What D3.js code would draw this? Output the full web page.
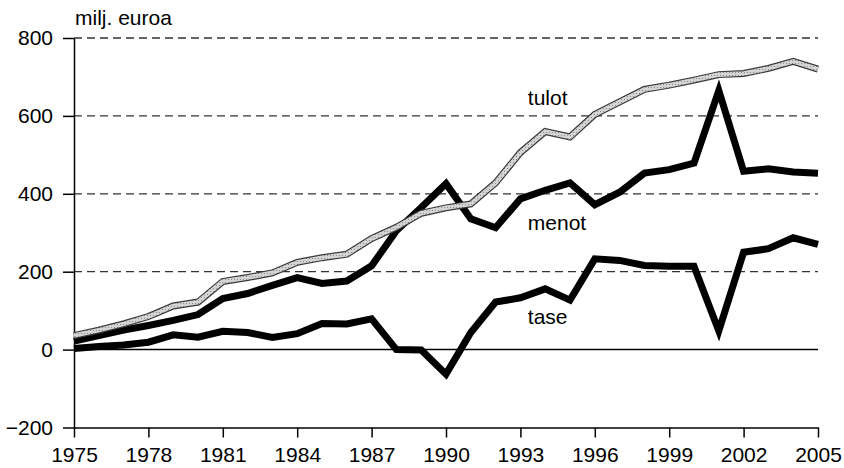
<!DOCTYPE html>
<html>
<head>
<meta charset="utf-8">
<script src="https://cdn.jsdelivr.net/npm/d3@7"></script>
<style>
	body {margin: 0; background: #fff;}
	svg text {font-family: "Liberation Sans", Arial, sans-serif; fill: #000;}
	.grid {stroke: #333; stroke-width: 1.3; stroke-dasharray: 8 5;}
	.axis path, .axis line {stroke: #000; stroke-width: 1.5;}
</style>
</head>
<body>
<svg id="chart" width="844" height="468"></svg>
<script>
var years = d3.range(1975, 2006);
var tulot = [36, 50, 66, 85, 112, 122, 175, 185, 197, 224, 236, 245, 285, 314, 350, 364,
	374, 428, 506, 560, 546, 604, 636, 668, 679, 692, 706, 709, 722, 740, 720];
var menot = [22, 36, 50, 62, 75, 90, 131, 144, 165, 185, 170, 176, 215, 305, 365, 426,
	336, 313, 387, 409, 428, 372, 404, 453, 462, 479, 665, 458, 464, 456, 453];
var tase = [3, 8, 12, 19, 38, 32, 47, 44, 31, 41, 67, 66, 79, 0, -1, -63,
	44, 122, 133, 156, 127, 233, 229, 216, 214, 214, 48, 250, 259, 287, 270];
var yTicks = [-200, 0, 200, 400, 600, 800];
var xTicks = d3.range(1975, 2006, 3);
var labels = [{text: 'tulot', year: 1993.3, value: 629}, {text: 'menot', year: 1993.3, value: 307}, {text: 'tase', year: 1993.3, value: 66}];

var svg = d3.select('#chart');
var x = d3.scaleLinear().domain([1975, 2005]).range([74, 818]);
var y = d3.scaleLinear().domain([-200, 800]).range([427.5, 38]);

// dotted texture for the tulot line
var pat = svg.append('defs').append('pattern').attr('id', 'dots')
	.attr('width', 3).attr('height', 3).attr('patternUnits', 'userSpaceOnUse');
pat.append('rect').attr('width', 3).attr('height', 3).attr('fill', '#d4d4d4');
pat.append('rect').attr('width', 1).attr('height', 1).attr('fill', '#8a8a8a');

// dashed grid
svg.selectAll('line.grid').data(yTicks.filter(function(d) { return d > 0; })).enter()
	.append('line').attr('class', 'grid')
	.attr('x1', x(1975)).attr('x2', x(2005))
	.attr('y1', function(d) { return y(d); }).attr('y2', function(d) { return y(d); });

svg.append('line').attr('x1', x(1975)).attr('x2', x(2005)).attr('y1', y(0)).attr('y2', y(0))
	.attr('stroke', '#000').attr('stroke-width', 1.5);

var yAxis = svg.append('g').attr('class', 'axis').attr('transform', 'translate(' + x(1975) + ',0)')
	.call(d3.axisLeft(y).tickValues(yTicks).tickSize(11).tickSizeOuter(0).tickPadding(10));
yAxis.selectAll('text').style('font-size', '21px');

var xAxis = svg.append('g').attr('class', 'axis').attr('transform', 'translate(0,' + y(-200) + ')')
	.call(d3.axisBottom(x).tickValues(xTicks).tickFormat(d3.format('d')).tickSize(10).tickSizeOuter(0).tickPadding(10));
xAxis.selectAll('text').style('font-size', '21px');

svg.append('text').attr('x', 75).attr('y', 25).style('font-size', '21px').text('milj. euroa');

var line = d3.line().x(function(d, i) { return x(years[i]); }).y(function(d) { return y(d); });

[menot, tase].forEach(function(s) {
	svg.append('path').attr('d', line(s)).attr('fill', 'none')
		.attr('stroke', '#000').attr('stroke-width', 7).attr('stroke-miterlimit', 4);
});
svg.append('path').attr('d', line(tulot)).attr('fill', 'none').attr('stroke', '#3a3a3a').attr('stroke-width', 7);
svg.append('path').attr('d', line(tulot)).attr('fill', 'none').attr('stroke', 'url(#dots)').attr('stroke-width', 4.6);

svg.selectAll('text.lbl').data(labels).enter().append('text').attr('class', 'lbl')
	.attr('x', function(d) { return x(d.year); }).attr('y', function(d) { return y(d.value); })
	.style('font-size', '21px').text(function(d) { return d.text; });
</script>
</body>
</html>
